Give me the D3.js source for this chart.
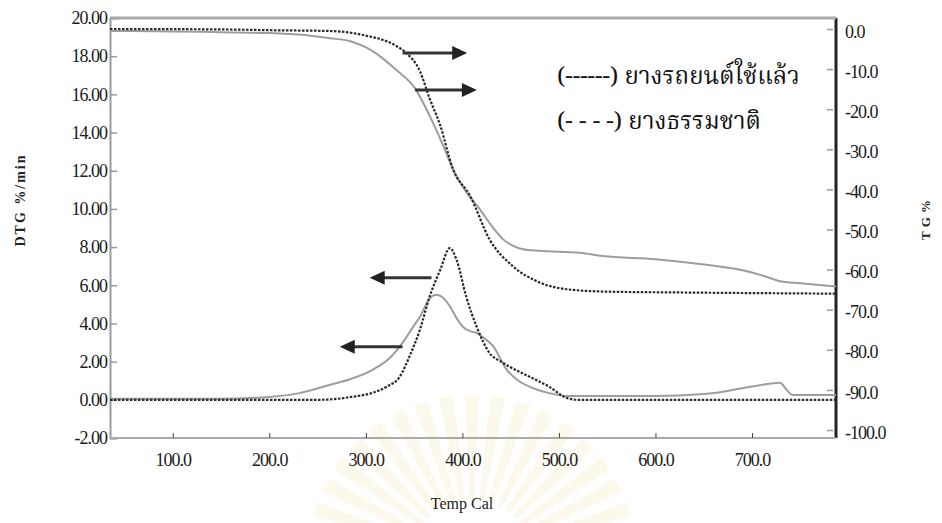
<!DOCTYPE html>
<html>
<head>
<meta charset="utf-8">
<script src="https://cdn.jsdelivr.net/npm/d3@7"></script>
<style>
  body { margin: 0; background: #fff; }
  svg { display: block; }
</style>
</head>
<body>
<svg id="chart" width="942" height="523"></svg>
<script>
// TG curves (right axis, %), DTG curves (left axis, %/min), temperature in C
const tgTireT = [35, 100, 150, 200, 230, 263, 283, 307, 332, 351, 366, 380, 390, 405, 418, 430, 442, 452, 463, 480, 522, 545, 600, 646, 698, 715, 729, 750, 787];
const tgTire = [-0.5, -0.6, -0.8, -1.0, -1.4, -2.3, -3.0, -5.5, -10.3, -14.8, -21.6, -29.0, -34.8, -41.0, -44.9, -49.0, -52.4, -54.0, -54.9, -55.3, -55.8, -56.6, -57.4, -58.6, -60.6, -61.8, -62.9, -63.4, -64.2];

const tgNatT = [35, 150, 200, 263, 297, 332, 342, 356, 366, 377, 390, 408, 428, 452, 480, 508, 550, 625, 787];
const tgNat = [0, -0.1, -0.3, -0.5, -1.5, -4.3, -6.0, -10.5, -17.3, -24.0, -34.8, -41.6, -52.4, -59.1, -63.2, -64.9, -65.5, -65.7, -66.0];

const dtgTireT = [35, 150, 200, 231, 263, 285, 307, 325, 338, 350, 356, 366, 373, 380, 387, 395, 401, 408, 415, 422, 432, 446, 458, 470, 490, 510, 600, 650, 663, 698, 720, 729, 736, 742, 787];
const dtgTire = [0.05, 0.05, 0.15, 0.35, 0.79, 1.1, 1.57, 2.2, 2.98, 3.9, 4.35, 5.3, 5.5, 5.35, 4.9, 4.2, 3.8, 3.6, 3.5, 3.25, 2.8, 1.57, 1.0, 0.68, 0.35, 0.2, 0.2, 0.3, 0.37, 0.68, 0.85, 0.89, 0.52, 0.25, 0.25];

const dtgNatT = [35, 250, 263, 285, 307, 322, 335, 345, 356, 366, 377, 387, 394, 404, 415, 428, 440, 449, 470, 490, 508, 520, 787];
const dtgNat = [0, 0, 0.02, 0.15, 0.37, 0.7, 1.2, 2.25, 3.67, 5.4, 6.8, 7.95, 7.33, 5.4, 3.8, 2.46, 2.0, 1.73, 1.2, 0.68, 0.1, 0, 0];

const xTicks = [100, 200, 300, 400, 500, 600, 700];
const leftTicks = [-2, 0, 2, 4, 6, 8, 10, 12, 14, 16, 18, 20];
const rightTicks = [0, -10, -20, -30, -40, -50, -60, -70, -80, -90, -100];

const legendLabels = ["(------) ยางรถยนต์ใช้แล้ว", "(- - - -) ยางธรรมชาติ"];

// arrows: [fromT, toT, value]
const tgArrows = [[338, 405, -6.0], [351, 415, -15.2]];
const dtgArrows = [[368, 304, 6.4], [338, 273, 2.78]];

const svg = d3.select("svg#chart");
const pLeft = 110, pRight = 836, pTop = 18, pBottom = 438;

const x = d3.scaleLinear().domain([35, 787]).range([pLeft, pRight]);
const yL = d3.scaleLinear().domain([-2, 20]).range([pBottom, pTop]);
const yR = d3.scaleLinear().domain([-100, 0]).range([430, 29]);

// plain hyphen for negatives, like the original
const loc = d3.formatLocale({decimal: ".", thousands: ",", grouping: [3], currency: ["", ""], minus: "-"});

const serif = "'Liberation Serif', 'Times New Roman', serif";

// very faint watermark rays at the bottom
const wm = svg.append("g").attr("transform", "translate(472,560)");
const rays = d3.range(-72, 73, 9);
wm.selectAll("path").data(rays).join("path")
  .attr("d", a => d3.arc()({innerRadius: 60, outerRadius: 165, startAngle: (a - 2.5) * Math.PI / 180, endAngle: (a + 2.5) * Math.PI / 180}))
  .attr("fill", "#fdf8ec");

// axes
const gL = svg.append("g").attr("transform", `translate(${pLeft},0)`)
  .call(d3.axisRight(yL).tickValues(leftTicks).tickSize(7).tickFormat(loc.format(".2f")));
gL.select(".domain").attr("stroke", "#9a9a9a").attr("stroke-width", 2);
gL.selectAll(".tick line").attr("stroke", "#9a9a9a").attr("stroke-width", 1.5);
gL.selectAll(".tick text").attr("x", -3).attr("text-anchor", "end")
  .style("font-family", serif).style("font-size", "18px").attr("fill", "#1a1a1a").attr("letter-spacing", "-1");

const gR = svg.append("g").attr("transform", `translate(${pRight},0)`)
  .call(d3.axisLeft(yR).tickValues(rightTicks).tickSize(7).tickFormat(loc.format(".1f")));
gR.select(".domain").attr("d", `M0,${pTop}V${pBottom}`).attr("stroke", "#222").attr("stroke-width", 3);
gR.selectAll(".tick line").attr("stroke", "#999").attr("stroke-width", 1.5).attr("x1", -3).attr("x2", -9);
gR.selectAll(".tick text").attr("x", 9).attr("dy", "0.45em").attr("text-anchor", "start")
  .style("font-family", serif).style("font-size", "18px").attr("fill", "#1a1a1a").attr("letter-spacing", "-1");

const gB = svg.append("g").attr("transform", `translate(0,${pBottom})`)
  .call(d3.axisTop(x).tickValues(xTicks).tickSize(5).tickFormat(loc.format(".1f")));
gB.select(".domain").attr("d", `M${pLeft},0H${pRight}`).attr("stroke", "#aaa").attr("stroke-width", 2);
gB.selectAll(".tick line").attr("stroke", "#444");
gB.selectAll(".tick text").attr("y", 28).attr("dy", 0)
  .style("font-family", serif).style("font-size", "18px").attr("fill", "#1a1a1a").attr("letter-spacing", "-1");

// top border
svg.append("line").attr("x1", pLeft).attr("x2", pRight).attr("y1", pTop).attr("y2", pTop)
  .attr("stroke", "#aaa").attr("stroke-width", 3);

// curves
const plot = svg.append("g");
function addLine(ts, vs, y, solid) {
  const line = d3.line().x(d => x(d[0])).y(d => y(d[1])).curve(d3.curveMonotoneX);
  plot.append("path").datum(d3.zip(ts, vs))
    .attr("d", line)
    .attr("fill", "none")
    .attr("stroke", solid ? "#9d9d9d" : "#2a2a2a")
    .attr("stroke-width", solid ? 2 : 2.2)
    .attr("stroke-dasharray", solid ? null : "2.5,1.5");
}
addLine(tgTireT, tgTire, yR, true);
addLine(dtgTireT, dtgTire, yL, true);
addLine(tgNatT, tgNat, yR, false);
addLine(dtgNatT, dtgNat, yL, false);

// arrows
function addArrow(a, y) {
  const [t0, t1, v] = a;
  const x0 = x(t0), x1 = x(t1), yy = y(v);
  const dir = Math.sign(x1 - x0);
  plot.append("line").attr("x1", x0).attr("x2", x1 - dir * 10).attr("y1", yy).attr("y2", yy)
    .attr("stroke", "#333").attr("stroke-width", 3);
  plot.append("path")
    .attr("d", `M${x1},${yy}L${x1 - dir * 15},${yy - 7}L${x1 - dir * 15},${yy + 7}Z`)
    .attr("fill", "#222");
}
tgArrows.forEach(a => addArrow(a, yR));
dtgArrows.forEach(a => addArrow(a, yL));

// legend text
svg.append("g").selectAll("text").data(legendLabels).join("text")
  .attr("x", 557).attr("y", (d, i) => 84 + i * 45)
  .style("font-family", "'Noto Serif Thai', 'Noto Sans Thai', 'Tlwg Typo', 'Garuda', 'Liberation Serif', serif")
  .style("font-size", "24px").attr("fill", "#111")
  .text(d => d);

// axis titles
svg.append("text").attr("transform", "translate(25,200) rotate(-90)")
  .attr("text-anchor", "middle").style("font-family", serif).style("font-size", "14px")
  .style("font-weight", "bold").attr("letter-spacing", "2").attr("fill", "#222").text("DTG %/min");
svg.append("text").attr("transform", "translate(930,218) rotate(-90)")
  .attr("text-anchor", "middle").style("font-family", serif).style("font-size", "13px")
  .style("font-weight", "bold").attr("letter-spacing", "4").attr("fill", "#222").text("TG%");
svg.append("text").attr("x", 462).attr("y", 509)
  .attr("text-anchor", "middle").style("font-family", serif).style("font-size", "16px")
  .attr("fill", "#222").text("Temp Cal");
</script>
</body>
</html>
